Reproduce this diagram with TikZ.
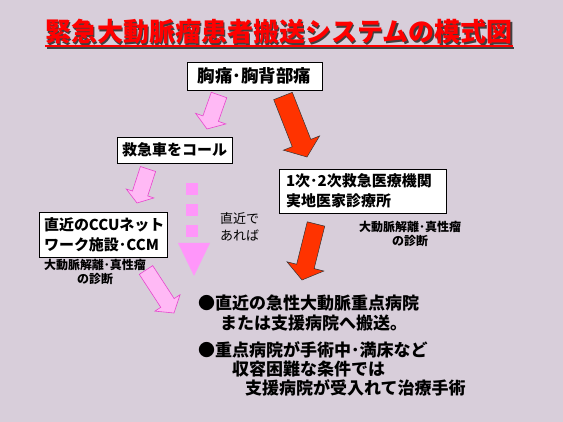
\documentclass[tikz,border=0pt]{standalone}
\usepackage{fontspec}
\setmainfont{Noto Sans CJK JP}
\usetikzlibrary{calc}
\definecolor{bg}{RGB}{216,206,218}
\definecolor{pinkfill}{RGB}{255,185,245}
\definecolor{pinkedge}{RGB}{230,70,205}
\definecolor{dashpink}{RGB}{255,150,250}
\definecolor{redfill}{RGB}{255,51,0}
\definecolor{titlered}{RGB}{255,0,0}
\newcommand\blockarrow[6]{%
  \coordinate (hb) at ($(#3)!#6!(#2)$);
  \path[#1] ($(#2)!#4!90:(#3)$) -- ($(hb)!#4!90:(#3)$) -- ($(hb)!#5!90:(#3)$) -- (#3)
    -- ($(hb)!#5!-90:(#3)$) -- ($(hb)!#4!-90:(#3)$) -- ($(#2)!#4!-90:(#3)$) -- cycle;}
\tikzset{
  boxnode/.style={draw=black, fill=white, line width=0.7pt, inner sep=0pt},
  boxfont/.style={font=\fontsize{15}{20}\selectfont\bfseries},
  pinkarrow/.style={fill=pinkfill, draw=pinkedge, line width=0.6pt},
  redarrow/.style={fill=redfill, draw=black!80, line width=0.5pt},
  dashpart/.style={fill=dashpink},
  bullettext/.style={anchor=west, inner sep=0pt, font=\fontsize{17}{20}\selectfont\bfseries},
  smalltext/.style={align=center, inner sep=0pt, font=\fontsize{12}{14}\selectfont\bfseries},
}
\begin{document}
\begin{tikzpicture}[x=1pt, y=-1pt]
\useasboundingbox (0,0) rectangle (563,422);
\fill[bg] (0,0) rectangle (563,422);

% title with its dark shadow
\node[inner sep=0pt, text=black!75, font=\fontsize{26}{30}\selectfont\bfseries] (titleshadow) at (280.5,33.5) {緊急大動脈瘤患者搬送システムの模式図};
\draw[black!75, line width=2pt] ([yshift=-1.5pt]titleshadow.south west) -- ([yshift=-1.5pt]titleshadow.south east);
\node[inner sep=0pt, text=titlered, font=\fontsize{26}{30}\selectfont\bfseries] (title) at (279,32) {緊急大動脈瘤患者搬送システムの模式図};
\draw[titlered, line width=2pt] ([yshift=-1.5pt]title.south west) -- ([yshift=-1.5pt]title.south east);

% boxes
\node[boxnode, minimum width=135pt, minimum height=28pt, font=\fontsize{17.5}{20}\selectfont\bfseries] (chest) at (254.5,76) {胸痛･胸背部痛};
\node[boxnode, boxfont, minimum width=115pt, minimum height=26pt] (call) at (174.5,150) {救急車をコール};
\node[boxnode, boxfont, minimum width=128pt, minimum height=45pt, inner xsep=5pt, text width=118pt, align=left] (ccu) at (103,234.5) {直近のCCUネット\\ワーク施設･CCM};
\node[boxnode, boxfont, minimum width=167pt, minimum height=44pt, inner xsep=7pt, text width=153pt, align=left] (clinic) at (362.5,191) {1次･2次救急医療機関\\実地医家診療所};

% side texts
\node[smalltext] (diagL) at (95,272) {大動脈解離･真性瘤\\の診断};
\node[smalltext] (diagR) at (410,234) {大動脈解離･真性瘤\\の診断};
\node[anchor=west, align=left, inner sep=0pt, font=\fontsize{13}{17}\selectfont] (near) at (220,226.5) {直近で\\あれば};

% bullets
\node[bullettext] (b1) at (198,303) {●直近の急性大動脈重点病院};
\node[bullettext] (b2) at (220,323) {または支援病院へ搬送。};
\node[bullettext] (b3) at (198,350) {●重点病院が手術中･満床など};
\node[bullettext] (b4) at (232,369) {収容困難な条件では};
\node[bullettext] (b5) at (245,388) {支援病院が受入れて治療手術};

% arrow end points
\coordinate (p1t) at (219,95);  \coordinate (p1h) at (207,129);
\coordinate (p2t) at (148,169); \coordinate (p2h) at (137,203);
\coordinate (p3t) at (146,270); \coordinate (p3h) at (174,313);
\coordinate (r1t) at (283,96);  \coordinate (r1h) at (307,157);
\coordinate (r2t) at (316,224); \coordinate (r2h) at (302,280);

\blockarrow{pinkarrow}{p1t}{p1h}{8.2pt}{16pt}{11pt}
\blockarrow{pinkarrow}{p2t}{p2h}{8pt}{14.5pt}{10pt}
\blockarrow{pinkarrow}{p3t}{p3h}{8pt}{15pt}{12pt}
\blockarrow{redarrow}{r1t}{r1h}{10pt}{19.5pt}{15pt}
\blockarrow{redarrow}{r2t}{r2h}{9pt}{19pt}{14pt}

% dashed pink arrow
\fill[dashpart] (186,183) rectangle (198,195);
\fill[dashpart] (186,204) rectangle (198,216);
\fill[dashpart] (186,225) rectangle (198,237);
\fill[dashpart] (178,243) -- (210,243) -- (194,276) -- cycle;
\end{tikzpicture}
\end{document}
